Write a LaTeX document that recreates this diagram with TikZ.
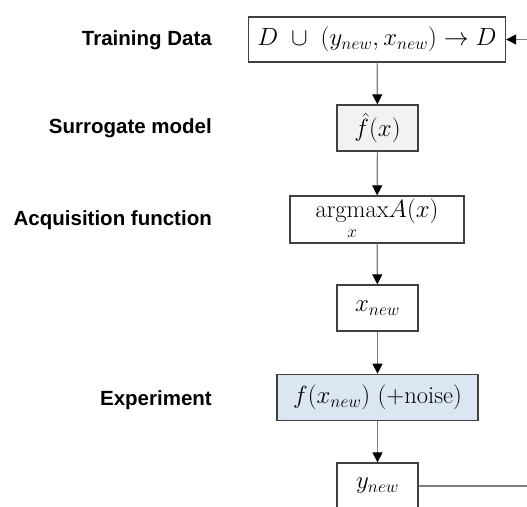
\documentclass[tikz,border=0pt]{standalone}
\usepackage{amsmath}
\usepackage{fontspec}
\newfontfamily\labfont{Liberation Sans}
\usetikzlibrary{arrows.meta}
\definecolor{boxline}{HTML}{404040}
\definecolor{connline}{HTML}{7F7F7F}
\definecolor{grayfill}{HTML}{F2F2F2}
\definecolor{bluefill}{HTML}{DCE6F2}
\tikzset{
  stepbox/.style={draw=boxline, line width=1.3pt, inner sep=0pt, minimum height=46pt,
    font=\fontsize{24.5}{28}\selectfont, anchor=center},
  sidelabel/.style={anchor=east, inner sep=0pt, font=\labfont\bfseries\fontsize{20.5}{24}\selectfont},
  conn/.style={draw=connline, line width=1.2pt, -{Triangle[length=10pt,width=10pt,color=black]}}
}
\begin{document}
\begin{tikzpicture}[x=1pt,y=-1pt]
\useasboundingbox (0,0) rectangle (527,506);
\clip (0,0) rectangle (527,506);
\node[stepbox, minimum width=257pt, minimum height=45pt] (train) at (377,39.5) {$D\ \cup\ (y_{new},x_{new})\rightarrow D$};
\node[stepbox, minimum width=81pt, fill=grayfill] (fhat) at (377.5,128) {$\hat{f}(x)$};
\node[stepbox, minimum width=174pt, minimum height=47pt] (acq) at (377,219.5) {$\displaystyle{\underset{x}{\mathrm{argmax}}}A(x)$};
\node[stepbox, minimum width=81pt] (xnew) at (377.5,308) {$x_{new}$};
\node[stepbox, minimum width=201pt, fill=bluefill] (exp) at (377.5,397.3) {$f(x_{new})\ (+\mathrm{noise})$};
\node[stepbox, minimum width=81pt] (ynew) at (377.5,486) {$y_{new}$};

\node[sidelabel] (l1) at (212,40) {Training Data};
\node[sidelabel] (l2) at (212,128) {Surrogate model};
\node[sidelabel] (l3) at (212,220) {Acquisition function};
\node[sidelabel] (l4) at (212,400) {Experiment};

\draw[conn] (train) -- (fhat);
\draw[conn] (fhat) -- (acq);
\draw[conn] (acq) -- (xnew);
\draw[conn] (xnew) -- (exp);
\draw[conn] (exp) -- (ynew);
\coordinate (r) at (545,0);
\draw[conn] (ynew.east) -- (ynew.east -| r) -- (train.east -| r) -- (train.east);
\end{tikzpicture}
\end{document}
